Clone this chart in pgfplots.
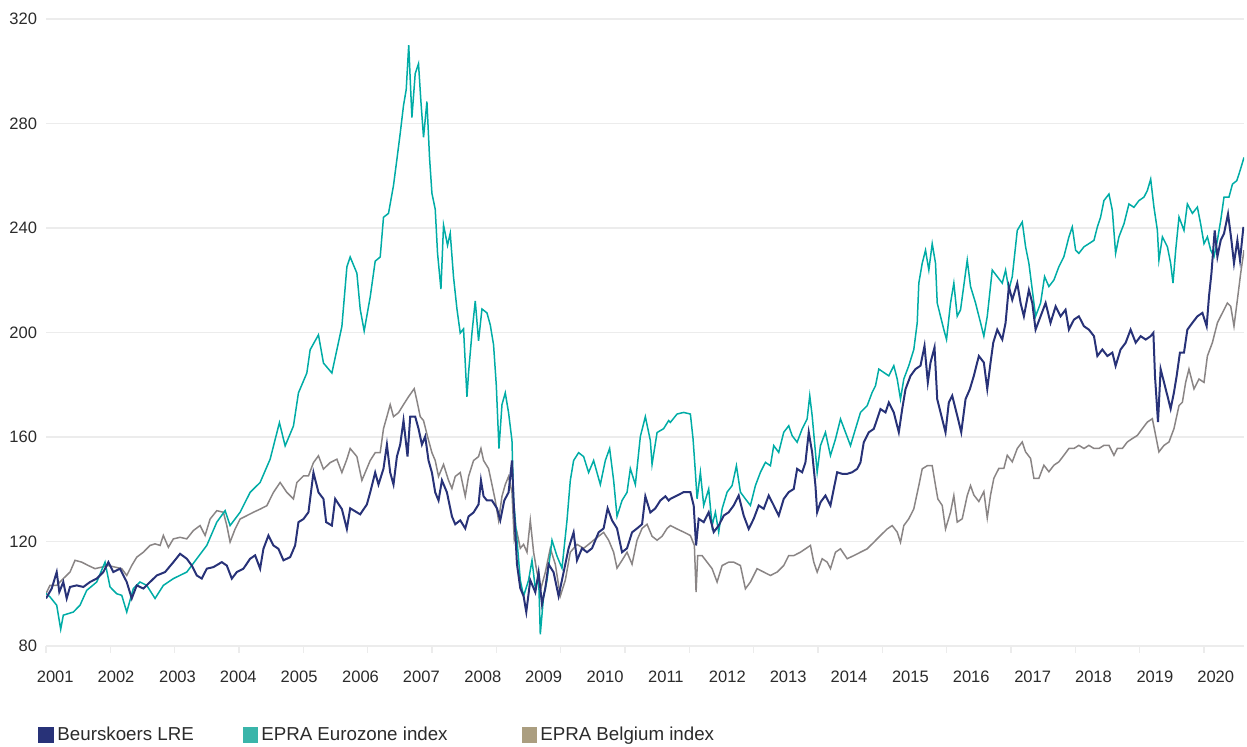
\documentclass[border=0pt]{standalone}
\usepackage{pgfplots}
\pgfplotsset{compat=1.18}
\usepackage{fontspec}
\setmainfont{Liberation Sans}

\definecolor{lrenavy}{HTML}{283278}
\definecolor{epraeu}{HTML}{00ACA6}
\definecolor{eprabe}{HTML}{8A8585}
\definecolor{legteal}{HTML}{3AB5AA}
\definecolor{legtan}{HTML}{AB9E80}
\definecolor{gridgray}{HTML}{ECECEC}
\definecolor{labelgray}{HTML}{2B2B2B}

\begin{document}
\begin{tikzpicture}
% x values in pixels, the filter maps them to years
\begin{axis}[at={(0,0)},anchor=south west,
  scale only axis,width=599bp,height=313.5bp,
  xmin=2001,xmax=2020.5,ymin=80,ymax=320,
  x filter/.expression={2001+(x-46)/61.4},
  ytick={80,120,...,320},
  ymajorgrids,grid style={gridgray,line width=0.75bp},
  axis line style={draw=none},
  xtick pos=bottom,ytick pos=left,
  major tick length=0pt,
  xtick={2001.15,2002.14,2003.14,2004.13,2005.12,2006.12,2007.11,2008.11,2009.10,2010.10,
         2011.09,2012.09,2013.08,2014.07,2015.07,2016.06,2017.06,2018.05,2019.05,2020.04},
  xticklabels={2001,2002,2003,2004,2005,2006,2007,2008,2009,2010,
               2011,2012,2013,2014,2015,2016,2017,2018,2019,2020},
  extra x ticks={2001,2002.047,2003.094,2004.142,2005.189,2006.236,2007.283,2008.330,2009.378,
                 2010.425,2011.472,2012.519,2013.566,2014.614,2015.661,2016.708,2017.755,2018.802,2019.850},
  extra x tick labels={},
  extra x tick style={grid=none,major tick length=3.5bp,tick align=outside,
                      tick style={draw=gridgray,line width=0.75bp}},
  tick label style={font=\fontsize{8.3}{10}\selectfont,text=labelgray},
  /pgf/number format/assume math mode=true,
  yticklabel style={anchor=east,inner sep=0pt,xshift=-4.3bp},
  xticklabel style={anchor=north,inner sep=0pt,yshift=-12.3bp},
  legend columns=3,reverse legend,legend cell align=left,
  legend style={draw=none,fill=none,inner sep=0pt,
    at={(-0.00668,-0.14195)},anchor=west,
    font=\fontsize{9.4}{11}\selectfont,text=labelgray,
    nodes={inner sep=0pt},
    /tikz/every odd column/.append style={column sep=1.8bp},
    /tikz/every even column/.append style={column sep=0pt}},
]

\addplot[eprabe,line width=0.75bp,
  legend image code/.code={\fill[legtan] (0bp,-3.4bp) rectangle (6.75bp,3.4bp);}]
 coordinates {
(46,100.1)(50,103.2)(56.7,103.2)(63.3,105.8)(70,108.3)(75,112.8)(81.7,112.1)(88.3,110.8)(95,109.6)(101.7,110.2)
(108.3,110.8)(115,110.2)(121.7,109.6)(126.7,107)(131.7,110.8)(136.7,114)(143.3,115.9)(150,118.5)(155,119.1)(160,118.5)
(163.3,122.3)(168.3,117.8)(173.3,121)(180,121.6)(186.7,121)(193.3,124.2)(200,126.1)(205,122.3)(210,128.6)(216.7,131.8)
(223.3,131.2)(226.7,126.1)(230,119.8)(235,124.8)(240,128.6)(246.7,129.9)(253.3,131.2)(260,132.4)(266.7,133.7)(273.3,138.8)
(280,142.6)(286.7,138.8)(293.3,136.3)(296.7,142.6)(303.3,145.1)(308.3,145.1)(313.3,150.2)(318.3,152.8)(323.3,147.7)(330,150.2)
(336.7,151.5)(341.7,146.4)(346.7,151.5)
(350,155.6)(356.7,152.5)(361.7,143.4)(365,146.4)(370,151)(375,154)(380,154)(383.3,163.2)(386.7,167.8)(390,172.4)
(393.3,167.8)(398.3,169.3)(403.3,172.4)(408.3,175.4)(414,178.5)(416.7,173.9)(420,167.8)(423.3,166.3)(427.3,160.2)(431.7,154)
(435,151)(438.3,144.9)(443.3,149.5)(448.3,143.4)(451.7,140.3)(455,144.9)(460,146.4)(465,137.3)(468.3,144.9)(473.3,151)
(478.3,152.5)(480.7,155.6)(483.3,151)(488.3,147.9)(491.7,141.8)(495,135.7)(498.3,128.1)(501.7,137.3)(505,141.8)(508.3,144.9)
(511.7,138.8)(514,120.5)(516.7,123.5)(520,117.4)(523.3,118.9)(526.7,115.9)(530,128.1)(533.3,115.9)(536.7,108.2)(540.7,102.1)
(545,108.2)(550,117.4)(555,111.3)(560,99.1)(565,105.2)(570,115.9)(576.7,118.9)(583.3,117.4)(588.3,118.9)(593.3,120.5)
(598.3,122)(603.3,123.5)(608.3,120.5)(613.3,115.9)(616.7,109.8)(621.7,112.8)(626.7,115.9)(631.7,111.3)(636.7,120.5)(641.7,125)
(646.7,126.6)(651.7,122)(656.7,120.5)(661.7,122)(666.7,125)
(670,126.1)(676.7,124.8)(683.3,123.6)(690,122.3)(694,118.5)(695.7,100.6)(697.3,114.6)(701.7,114.6)(706.7,112.1)(711.7,109.6)
(716.7,104.5)(721.7,110.8)(728.3,112.1)(733.3,112.1)(740,110.8)(745,101.9)(750,104.5)(756.7,109.6)(763.3,108.3)(770,107)
(776.7,108.3)(783.3,110.8)(788.3,114.6)(793.3,114.6)(800,115.9)(805,117.2)(810,118.5)(813.3,112.1)(816.7,108.3)(821.7,113.4)
(826.7,112.1)(830,109.6)(835,115.9)(840,117.2)(846.7,113.4)(853.3,114.6)(860,115.9)(866.7,117.2)(873.3,119.7)(880,122.3)
(886.7,124.8)(891.7,126.1)(896.7,123.6)(900,119.7)(903.3,126.1)(908.3,128.7)(913.3,132.5)(918.3,141.4)(921.7,147.8)(926.7,149)
(931.7,149)(935,141.4)(937.3,136.3)(941.7,133.8)(945,124.8)(950,131.2)(953.3,137.6)(956.7,127.4)(961.7,128.7)(966.7,137.6)
(970,141.4)
(973.3,137.8)(978.3,135.3)(983.3,139.1)(986.7,129)(990,137.8)(993.3,144.2)(998.3,148)(1003.3,148)(1006.7,153)(1011.7,150.5)
(1016.7,155.6)(1021.7,158.1)(1025,154.3)(1030,151.8)(1033.3,144.2)(1038.3,144.2)(1043.3,149.2)(1048.3,146.7)(1053.3,149.2)(1058.3,150.5)
(1063.3,153)(1068.3,155.6)(1073.3,155.6)(1078.3,156.8)(1083.3,155.6)(1088.3,156.8)(1093.3,155.6)(1098.3,155.6)(1103.3,156.8)(1108.3,156.8)
(1113.3,153)(1116.7,155.6)(1121.7,155.6)(1126.7,158.1)(1131.7,159.4)(1136.7,160.6)(1141.7,163.2)(1146.7,165.7)(1151.7,167)(1155,160.6)
(1158.3,154.3)(1163.3,156.8)(1168.3,158.1)(1173.3,163.2)(1178.3,172)(1181.7,173.3)(1185,180.9)(1188.3,186)(1193.3,178.4)(1198.3,182.2)
(1203.3,180.9)(1206.7,191)(1211.7,196.1)(1216.7,203.7)(1221.7,207.5)(1226.7,211.3)(1230,210)(1233.3,202.4)(1236.7,212.5)(1240,222.7)
(1243.3,231.5)};
\addlegendentry{EPRA Belgium index}

\addplot[epraeu,line width=0.75bp,
  legend image code/.code={\fill[legteal] (0bp,-3.4bp) rectangle (6.75bp,3.4bp);}]
 coordinates {
(46,100.1)(50,98.8)(56.7,95.6)(60.7,86.4)(63.3,91.8)(73.3,93)(80,95.6)(86.7,101.3)(96.7,104.5)(105,112.1)
(110,102.6)(116.7,100)(121.7,99.4)(126.7,93)(133.3,102)(140,104.5)(146.7,103.2)(155,98.2)(163.3,103.2)(173.3,105.8)
(186.7,108.3)(196.7,113.4)(206.7,118.5)(216.7,127.4)(225,131.8)(230,126.1)(240,131.2)(250,138.8)(260,142.6)(270,151.5)
(279.3,165.5)(285,156.6)(293.3,164.2)(298.3,176.9)(306.7,184.5)(310,193.4)(318.3,199.1)(323.3,188.3)(331.7,184.5)(336.7,193.4)
(341.7,202.3)(346.7,225.1)
(350,228.9)(356.7,222.7)(360,209)(364,200.6)(370,213.6)(375,227.3)(380,228.9)(383.3,244.1)(388.3,245.6)(393.3,256.3)
(396.7,266.3)(400,276.2)(403.3,286.9)(406,293)(408.5,310)(411.7,282.3)(415,299.1)(418.3,302.9)(420.7,288.4)(423.3,274.7)
(426.7,288.4)(429.3,267)(431.7,253.3)(435,247.2)(437.3,230.4)(440.7,216.6)(443.3,241.1)(447.3,233.4)(450,238)(453.3,221.2)
(456.7,209)(460,199.8)(463.3,201.4)(466.7,175.4)(468.3,184.6)(471.7,199.8)(475,212.1)(478.3,196.8)(481.7,209)(486.7,207.5)
(490,202.9)(493.3,195.3)(496,180)(498.7,155.6)(501.7,172.4)(505,176.9)(508.3,169.3)(511.7,158.6)(513.3,135.7)(516.7,120.5)
(520,105.2)(523.3,99.1)(528.3,105.2)(531.7,112.8)(535,102.1)(538.3,106.7)(540,84.5)(543.3,99.1)(546.7,105.2)(551.7,120.5)
(556.7,114.4)(561.7,109.8)(566.7,128.1)(570,143.4)(573.3,151)(578.3,154)(583.3,152.5)(588.3,146.4)(593.3,151)(600,141.8)
(605,151)(609.3,155.6)(613.3,143.4)(616.7,129.6)(621.7,135.7)(626.7,138.8)(630,147.9)(635,141.8)(640,160.2)(645,167.8)
(650,158.6)(651.7,149.5)(656.7,161.7)(663.3,163.2)(668.3,166.3)
(670,165.6)(676.7,168.8)(683.3,169.4)(690,168.8)(692.7,159.2)(695,146.5)(696.7,136.3)(700,146.5)(703.3,133.8)(708.3,140.1)
(711.7,126.1)(715,131.2)(718.3,123.6)(721.7,132.5)(726.7,138.9)(731.7,141.4)(736,149)(740,138.9)(745,136.3)(750,133.8)
(755,141.4)(760,146.5)(765,150.3)(770,149)(773.3,156.7)(778.3,154.1)(783.3,161.8)(788.3,164.3)(791.7,160.5)(796.7,158)
(801.7,163.1)(806.7,166.9)(809.3,175.8)(811.7,168.2)(815,154.1)(816.7,146.5)(820,156.7)(825,161.8)(830,152.9)(835,159.2)
(840,166.9)(845,161.8)(850,156.7)(855,163.1)(860,169.4)(866.7,172)(871.7,177.1)(875,179.6)(878.3,186)(883.3,184.7)
(888.3,183.4)(893.3,187.3)(896.7,182.2)(900,174.5)(903.3,182.2)(908.3,187.3)
(913.3,193.5)(916.7,203.7)(918.3,218.9)(921.7,226.5)(925,231.5)(928.3,223.9)(931.7,234)(935,226.5)(936.7,211.3)(940,206.2)
(943.3,201.1)(946,197.3)(950,211.3)(953.3,218.9)(956.7,206.2)(960,208.7)(966.7,227.7)(970,217.6)(975,211.3)(980,203.7)
(983.3,198.6)(986.7,206.2)(991.7,223.9)(996.7,221.4)(1001.7,218.9)(1005,223.9)(1008.3,216.3)(1011.7,221.4)(1016.7,239.1)(1021.7,242.3)
(1025,232.8)(1028.3,226.5)(1031.7,216.3)(1035,206.2)(1040,211.3)(1044,221.4)(1048.3,217.6)(1053.3,220.1)(1058.3,225.2)(1063.3,229)
(1068.3,236.6)(1071.7,240.4)(1075,231.5)(1078.3,230.3)(1083.3,232.8)(1088.3,234)(1093.3,235.3)(1096.7,240.4)(1100,244.2)(1103.3,250.5)
(1108.3,253)(1111.7,246.7)(1115,230.3)(1118.3,236.6)(1123.3,241.6)(1128.3,249.2)(1133.3,247.9)(1138.3,250.5)(1143.3,251.8)(1146.7,254.3)
(1150,258.7)(1153.3,248)(1156.7,239.1)(1158.3,227.7)(1161.7,236.6)(1166.7,232.8)(1170,226.5)(1172.3,218.9)(1175,231.5)(1178.3,244.2)
(1183.3,239.1)(1186.7,249.2)(1191.7,245.6)(1196.7,248)(1200,241.6)(1203.3,234)(1206.7,236.6)(1210,231.5)(1213.3,229)(1216.7,235.3)
(1220,242.9)(1223.3,251.8)(1228.3,251.8)(1231.7,256.8)(1236,258.1)(1239.3,261.9)(1243.3,267)};
\addlegendentry{\makebox[130.2bp][l]{EPRA Eurozone index}}

\addplot[lrenavy,line width=1bp,
  legend image code/.code={\fill[lrenavy] (0bp,-3.4bp) rectangle (6.75bp,3.4bp);}]
 coordinates {
(46,98.2)(51.7,102)(56.7,108.3)(59.3,100.7)(63.3,104.5)(66.7,98.2)(70,102.6)(76.7,103.2)(83.3,102.6)(90,104.5)
(96.7,105.8)(103.3,108.3)(108.3,112.1)(113.3,108.3)(120,109.6)(126.7,104.5)(131.7,98.2)(136.7,103.2)(143.3,102)(150,104.5)
(156.7,107)(165,108.3)(173.3,112.1)(180,115.3)(186.7,113.4)(191.7,110.8)(196.7,107)(201.7,105.8)(206.7,109.6)(213.3,110.2)
(221.7,112.1)(226.7,110.8)(231.7,105.8)(236.7,108.3)(243.3,109.6)(250,113.4)(255,114.7)(260,109.6)(263.3,117.2)(268.3,122.3)
(273.3,118.5)(278.3,117.2)(283.3,112.8)(290,114)(295,118.5)(298.3,127.4)(303.3,128.6)(308.3,131.2)(313.3,146.4)(318.3,138.8)
(323.3,136.3)(326,127.4)(331.7,126.1)(335,136.3)(341.7,132.4)(346.7,124.8)
(350,132.7)(360,130.4)(366.7,134.2)(370,138.8)(375,146.4)(378.3,141.8)(383.3,147.9)(386.7,157.1)(390,146.4)(393.3,141.8)
(396.7,152.5)(400,157.1)(403.3,166.3)(407.3,152.5)(410,167.8)(415,167.8)(418.3,163.2)(421.7,157.1)(425,160.2)(428.3,151)
(431.7,146.4)(435,138.8)(438.3,135.7)(441.7,143.4)(446.7,138.8)(451.7,129.6)(455,126.6)(460,128.1)(465,125)(468.3,129.6)
(473.3,131.1)(478.3,134.2)(480.7,143.4)(483.3,137.3)(486.7,135.7)(491.7,135.7)(496.7,132.7)(500,128.1)(504,135.7)(508.3,138.8)
(511.7,151)(513.3,135.7)(516.7,111.3)(520,102.1)(523.3,99.1)(526,93)(530,105.2)(535,100.6)(538.3,108.2)(541.7,96)
(545,102.1)(548.3,111.3)(553.3,108.2)(558.3,99.1)(563.3,108.2)(568.3,117.4)(573.3,123.5)(576.7,112.8)(581.7,117.4)(586.7,115.9)
(591.7,117.4)(598.3,123.5)(603.3,125)(607.3,132.7)(611.7,128.1)(616.7,125)(621.7,115.9)(626.7,117.4)(631.7,123.5)(636.7,125)
(641.7,126.6)(645,137.3)(650,131.1)(655,132.7)(660,135.7)(665,137.3)(668.3,135.7)
(670,136.3)(676.7,137.6)(683.3,138.9)(690,138.9)(693.3,133.8)(695.7,118.5)(698.3,128.7)(703.3,127.4)(708.3,131.2)(713.3,123.6)
(718.3,126.1)(723.3,129.9)(728.3,131.2)(733.3,133.8)(738.3,137.6)(743.3,129.9)(748.3,124.8)(753.3,128.7)(758.3,133.8)(763.3,132.5)
(768.3,137.6)(773.3,133.8)(778.3,129.9)(783.3,136.3)(788.3,138.9)(793.3,140.1)(796.7,147.8)(801.7,146.5)(805,150.3)(808.3,161.8)
(811.7,154.1)(815,141.4)(816.7,131.2)(820,135)(825,137.6)(830,133.8)(833.3,140.1)(836.7,146.5)(841.7,145.9)(846.7,145.9)
(851.7,146.5)(856.7,147.8)(860,150.3)(863.3,158)(868.3,161.8)(873.3,163.1)(876.7,166.9)(880,170.7)(885,169.4)(888.3,173.2)
(893.3,169.4)(898.3,161.8)(901.7,170.7)(905,178.3)(910,183.4)(915,186)(920,187.3)(924,194.9)(927.3,180.9)(930,188.5)
(934,194.3)(936.7,174.5)(940,169.4)(945,161.8)(948.3,173.2)(951.7,175.8)(956.7,168.2)(960.7,161.8)(965,174.5)(969.3,178.3)
(973.3,183.4)(978.3,191)(983.3,188.5)(986.7,178.4)(990,188.5)(992.7,196.1)(996.7,201.1)(1001.7,197.3)(1005,203.7)(1008.3,217.6)
(1011.7,212.5)(1016.7,218.9)(1020,211.3)(1023.3,206.2)(1028.3,216.3)(1031.7,211.3)(1035,201.1)(1040,206.2)(1045,211.3)(1050,203.7)
(1055,210)(1060,206.2)(1065,208.7)(1068.3,201.1)(1073.3,204.9)(1078.3,206.2)(1083.3,202.4)(1088.3,201.1)(1093.3,198.6)(1096.7,191)
(1101.7,193.5)(1106.7,191)(1111.7,192.3)(1115,187.2)(1120,193.5)(1125,196.1)(1130,201.1)(1135,196.1)(1140,198.6)(1145,197.3)
(1150,198.6)(1152.7,199.9)(1154.3,183.4)(1156,173.3)(1157.3,165.7)(1160,186)(1163.3,180.9)(1166.7,175.8)(1170,170.8)(1173.3,177.1)
(1176,183.4)(1179.3,192.3)(1183.3,192.3)(1186.7,201.1)(1191.7,203.7)(1196.7,206.2)(1201.7,207.5)(1206,202.4)(1208.3,213.8)(1210.7,222.7)
(1214,239.1)(1216.7,229)(1220,235.3)(1223.3,237.8)(1227.3,245.4)(1230.7,235.3)(1233.3,226.5)(1236.7,235.3)(1239.3,227.7)(1242.7,240.4)};
\addlegendentry{\makebox[92.6bp][l]{Beurskoers LRE}}

\end{axis}
\pgfresetboundingbox
\path[use as bounding box] (-23bp,-50.5bp) rectangle (600.5bp,323bp);
\end{tikzpicture}
\end{document}
